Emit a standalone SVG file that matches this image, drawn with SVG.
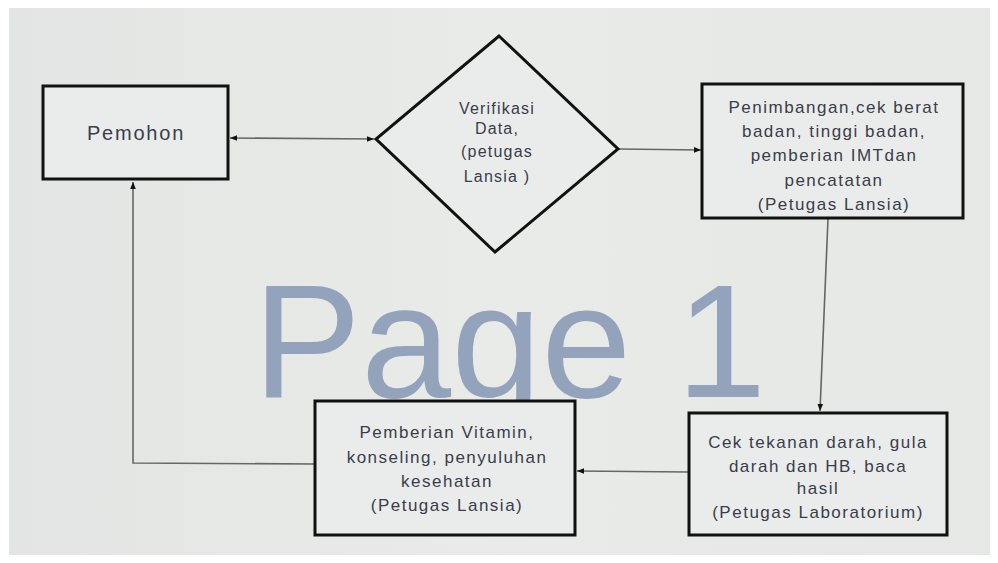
<svg xmlns="http://www.w3.org/2000/svg" width="998" height="563" viewBox="0 0 998 563">
<style>
.box{fill:#e9ecea;stroke:#111;stroke-width:3}
.t{font-family:"Liberation Sans",Arial,sans-serif;font-size:17px;letter-spacing:1.5px;fill:#3a3d4a;text-anchor:middle}
.d{font-size:16px;letter-spacing:1.2px}
.p{font-size:20px;letter-spacing:1.8px}
.c{fill:none;stroke:#666;stroke-width:1.6}
.wm{font-family:"Liberation Sans",Arial,sans-serif;font-size:162px;fill:#94a3bc}
</style>
<defs>
<marker id="ah" viewBox="0 0 10 10" refX="10" refY="5" markerWidth="7" markerHeight="7" orient="auto-start-reverse" markerUnits="userSpaceOnUse">
<path d="M0,1 L10,5 L0,9 z" fill="#111"/>
</marker>
<linearGradient id="bg" x1="0" y1="0" x2="1" y2="0">
<stop offset="0" stop-color="#e3e5e4"/>
<stop offset="0.5" stop-color="#e9ebe8"/>
<stop offset="1" stop-color="#e6e8e6"/>
</linearGradient>
<clipPath id="wmclip"><rect x="0" y="0" width="998" height="400"/></clipPath>
</defs>
<rect x="0" y="0" width="998" height="563" fill="#ffffff"/>
<rect x="9" y="8" width="981" height="547" fill="url(#bg)"/>
<text class="wm" x="253" y="397" clip-path="url(#wmclip)">Page 1</text>
<g id="connectors">
<line class="c" x1="230" y1="138" x2="374" y2="139" marker-start="url(#ah)" marker-end="url(#ah)"/>
<line class="c" x1="619" y1="149" x2="701" y2="150" marker-end="url(#ah)"/>
<line class="c" x1="828" y1="219" x2="820" y2="411" marker-end="url(#ah)"/>
<line class="c" x1="688" y1="472" x2="577" y2="471" marker-end="url(#ah)"/>
<polyline class="c" points="315,464 133,463 133,182" marker-end="url(#ah)"/>
</g>
<g id="pemohon">
<rect class="box" x="43" y="86" width="185" height="93"/>
<text class="t p" x="136" y="140">Pemohon</text>
</g>
<g id="verifikasi">
<polygon class="box" points="499,36 618,149 495,252 376,139"/>
<text class="t d" x="497" y="114">Verifikasi</text>
<text class="t d" x="497" y="134">Data,</text>
<text class="t d" x="497" y="157">(petugas</text>
<text class="t d" x="497" y="182">Lansia )</text>
</g>
<g id="penimbangan">
<rect class="box" x="702" y="84" width="261" height="134"/>
<text class="t" x="834" y="113">Penimbangan,cek berat</text>
<text class="t" x="834" y="137">badan, tinggi badan,</text>
<text class="t" x="834" y="161">pemberian IMTdan</text>
<text class="t" x="834" y="186">pencatatan</text>
<text class="t" x="834" y="210">(Petugas Lansia)</text>
</g>
<g id="cek">
<rect class="box" x="689" y="413" width="258" height="122"/>
<text class="t" x="818" y="448">Cek tekanan darah, gula</text>
<text class="t" x="818" y="472">darah dan HB, baca</text>
<text class="t" x="818" y="494">hasil</text>
<text class="t" x="818" y="518">(Petugas Laboratorium)</text>
</g>
<g id="vitamin">
<rect class="box" x="315" y="401" width="260" height="134"/>
<text class="t" x="447" y="438">Pemberian Vitamin,</text>
<text class="t" x="447" y="463">konseling, penyuluhan</text>
<text class="t" x="447" y="487">kesehatan</text>
<text class="t" x="447" y="511">(Petugas Lansia)</text>
</g>
</svg>
